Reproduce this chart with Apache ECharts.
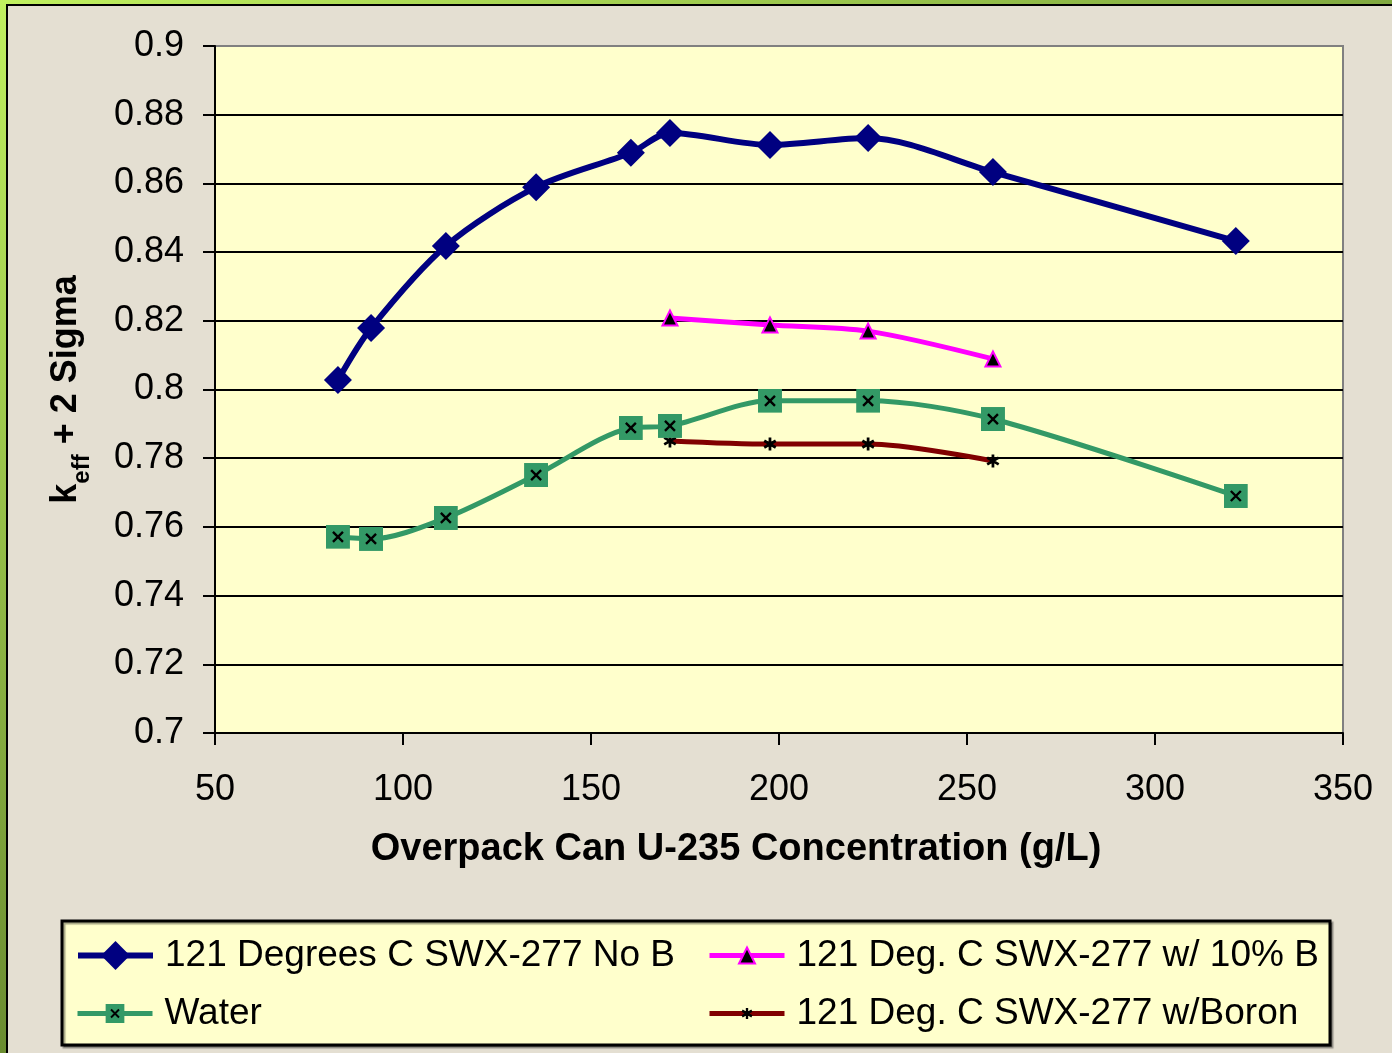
<!DOCTYPE html>
<html>
<head>
<meta charset="utf-8">
<script src="https://cdn.jsdelivr.net/npm/echarts@6/dist/echarts.min.js"></script>
<style>
html,body{margin:0;padding:0;background:#e4dfd2;}
#chart{width:1392px;height:1053px;}
</style>
</head>
<body>
<div id="chart"></div>
<script>
// ---- data ----
const seriesNames = ['121 Degrees C SWX-277 No B', '121 Deg. C SWX-277 w/ 10% B', 'Water', '121 Deg. C SWX-277 w/Boron'];
const xNoB = [82.7, 91.5, 111.4, 135.4, 160.6, 171.0, 197.6, 223.7, 256.9, 321.5];
const yNoB = [0.8028, 0.8179, 0.8418, 0.8589, 0.8689, 0.8747, 0.8712, 0.8732, 0.8633, 0.8432];
const xTenB = [171.0, 197.6, 223.7, 256.9];
const yTenB = [0.8208, 0.8188, 0.8170, 0.8089];
const xWater = [82.7, 91.5, 111.4, 135.4, 160.6, 171.0, 197.6, 223.7, 256.9, 321.5];
const yWater = [0.7571, 0.7565, 0.7626, 0.7751, 0.7888, 0.7894, 0.7967, 0.7967, 0.7914, 0.7690];
const xBoron = [171.0, 197.6, 223.7, 256.9];
const yBoron = [0.7850, 0.7841, 0.7841, 0.7792];
const xTicks = [50, 100, 150, 200, 250, 300, 350];
const yTicks = [0.7, 0.72, 0.74, 0.76, 0.78, 0.8, 0.82, 0.84, 0.86, 0.88, 0.9];

const pairs = (xs, ys) => xs.map((x, i) => [x, ys[i]]);
const svgUri = s => 'image://data:image/svg+xml;charset=utf-8,' + encodeURIComponent(s);
const squareX = svgUri("<svg xmlns='http://www.w3.org/2000/svg' width='48' height='48' viewBox='0 0 24 24'><rect width='24' height='24' fill='#339966'/><path d='M7 7L17 17M17 7L7 17' stroke='#000' stroke-width='2.4' fill='none'/></svg>");
const asterisk = svgUri("<svg xmlns='http://www.w3.org/2000/svg' width='48' height='48' viewBox='0 0 12 12'><path d='M6 0.8V11.2M1.4 3.3L10.6 8.7M10.6 3.3L1.4 8.7' stroke='#000' stroke-width='2.2' fill='none'/></svg>");

const FONT = 'Liberation Sans, Arial, sans-serif';
const chart = echarts.init(document.getElementById('chart'), null, {renderer: 'canvas'});

function legendFor(name, left, top, itemHeight, color, lw) {
  return {
    data: [name], left: left, top: top, padding: 0, orient: 'horizontal',
    itemWidth: 75, itemHeight: itemHeight, selectedMode: false,
    lineStyle: {color: color, width: lw},
    textStyle: {fontFamily: FONT, fontSize: 37, color: '#000', lineHeight: 36, padding: [0, 0, 0, 7]}
  };
}

const option = {
  backgroundColor: '#e4dfd2',
  animation: false,
  textStyle: {fontFamily: FONT},
  graphic: [
    {type: 'rect', shape: {x: 0, y: 0, width: 6, height: 1053}, style: {fill: new echarts.graphic.LinearGradient(0, 0, 0, 1, [{offset: 0, color: '#c0f060'}, {offset: 1, color: '#6a8c30'}])}, z: 100},
    {type: 'rect', shape: {x: 0, y: 0, width: 1392, height: 4}, style: {fill: new echarts.graphic.LinearGradient(0, 0, 1, 0, [{offset: 0, color: '#c0f060'}, {offset: 1, color: '#80a840'}])}, z: 100},
    {type: 'rect', shape: {x: 6, y: 4, width: 2, height: 1049}, style: {fill: '#000'}, z: 100},
    {type: 'rect', shape: {x: 6, y: 4, width: 1386, height: 2}, style: {fill: '#000'}, z: 100},
    {type: 'rect', shape: {x: 62, y: 921, width: 1268, height: 124}, style: {fill: '#ffffcc', stroke: '#000', lineWidth: 3, shadowColor: 'rgba(0,0,0,0.35)', shadowOffsetX: 2, shadowOffsetY: 2, shadowBlur: 1}, z: -1}
  ],
  grid: {left: 215, right: 49, top: 46, bottom: 320, show: true, backgroundColor: '#ffffcc', borderColor: '#808080', borderWidth: 2},
  legend: [
    legendFor(seriesNames[0], 75, 937, 36, '#000080', 6),
    legendFor(seriesNames[1], 707, 937, 20, '#ff00ff', 5),
    legendFor(seriesNames[2], 75, 995, 24, '#339966', 5),
    legendFor(seriesNames[3], 707, 995, 16, '#800000', 5)
  ],
  xAxis: {
    type: 'value', min: xTicks[0], max: xTicks[xTicks.length - 1], interval: 50,
    name: 'Overpack Can U-235 Concentration (g/L)', nameLocation: 'middle', nameGap: 98,
    nameTextStyle: {fontFamily: FONT, fontSize: 38, fontWeight: 'bold', color: '#000', padding: [0, 86, 0, 0]},
    axisLine: {show: true, onZero: false, lineStyle: {color: '#000', width: 2}},
    axisTick: {show: true, inside: false, length: 12, lineStyle: {color: '#000', width: 2}},
    axisLabel: {fontFamily: FONT, fontSize: 36, color: '#000', margin: 39},
    splitLine: {show: false}
  },
  yAxis: {
    type: 'value', min: yTicks[0], max: yTicks[yTicks.length - 1], interval: 0.02,
    name: '{k|k}{sub|eff}{b| + 2 Sigma}', nameLocation: 'middle', nameGap: 129, nameRotate: 90,
    nameTextStyle: {
      rich: {
        k: {fontFamily: FONT, fontSize: 36, fontWeight: 'bold', color: '#000', lineHeight: 40},
        sub: {fontFamily: FONT, fontSize: 24, fontWeight: 'bold', color: '#000', verticalAlign: 'bottom', lineHeight: 40, padding: [0, 0, -8, 0]},
        b: {fontFamily: FONT, fontSize: 36, fontWeight: 'bold', color: '#000', lineHeight: 40}
      }
    },
    axisLine: {show: true, onZero: false, lineStyle: {color: '#000', width: 2}},
    axisTick: {show: true, inside: false, length: 12, lineStyle: {color: '#000', width: 2}},
    axisLabel: {fontFamily: FONT, fontSize: 36, color: '#000', margin: 31},
    splitLine: {show: true, showMinLine: false, showMaxLine: false, lineStyle: {color: '#000', width: 2}}
  },
  series: [
    {
      name: seriesNames[0], type: 'line', data: pairs(xNoB, yNoB), smooth: 0.3,
      symbol: 'diamond', symbolSize: 28,
      lineStyle: {color: '#000080', width: 6}, itemStyle: {color: '#000080'}, z: 4
    },
    {
      name: seriesNames[1], type: 'line', data: pairs(xTenB, yTenB), smooth: 0.3,
      symbol: 'triangle', symbolSize: 15,
      lineStyle: {color: '#ff00ff', width: 5}, itemStyle: {color: '#000', borderColor: '#ff00ff', borderWidth: 2}, z: 3
    },
    {
      name: seriesNames[2], type: 'line', data: pairs(xWater, yWater), smooth: 0.3,
      symbol: squareX, symbolSize: 24,
      lineStyle: {color: '#339966', width: 5}, itemStyle: {color: '#339966'}, z: 2
    },
    {
      name: seriesNames[3], type: 'line', data: pairs(xBoron, yBoron), smooth: 0.3,
      symbol: asterisk, symbolSize: 15,
      lineStyle: {color: '#800000', width: 5}, itemStyle: {color: '#800000'}, z: 1
    }
  ]
};
chart.setOption(option);
</script>
</body>
</html>
